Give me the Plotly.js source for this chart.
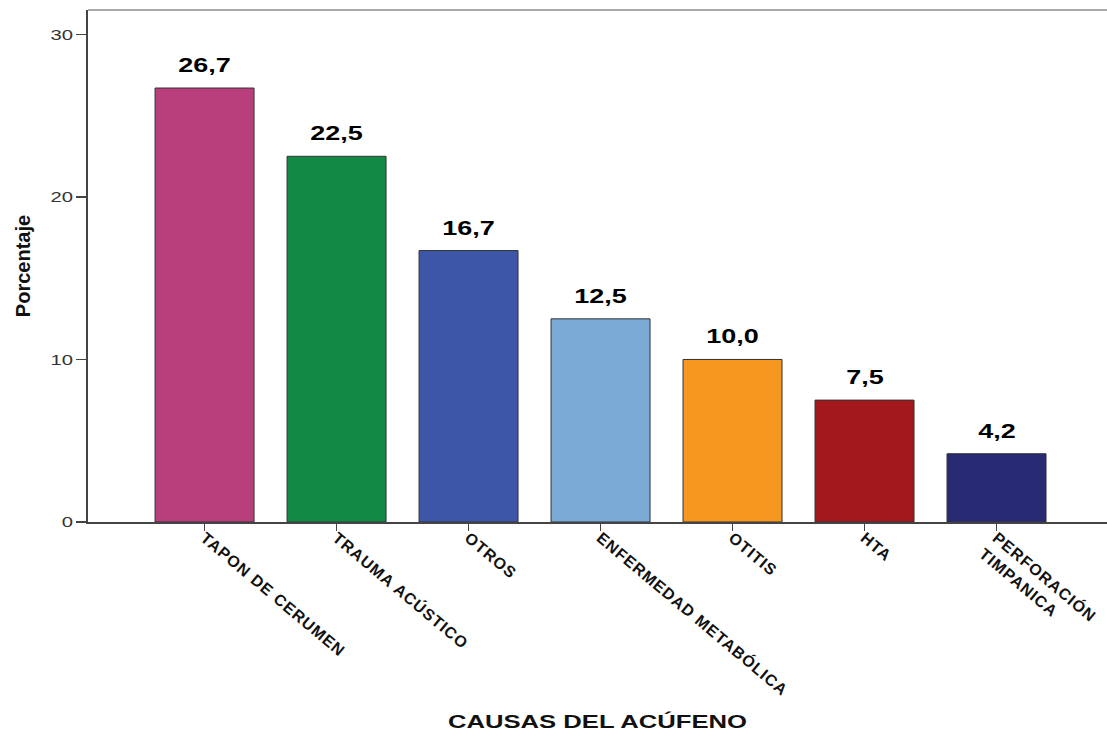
<!DOCTYPE html>
<html>
<head>
<meta charset="utf-8">
<script src="https://cdn.plot.ly/plotly-3.0.1.min.js"></script>
<style>
  html, body { margin: 0; padding: 0; background: #ffffff; }
  #chart { width: 1107px; height: 735px; }
  /* wide, stretched lettering for the titles, value labels and y tick labels */
  #chart .xtitle, #chart .annotation-text {
    transform-box: fill-box; transform-origin: center; transform: scaleX(1.35);
  }
  #chart g.ytick {
    transform-box: fill-box; transform-origin: right center; transform: scaleX(1.35);
  }
  #chart g.xtick text { letter-spacing: 1px; }
</style>
</head>
<body>
<div id="chart"></div>
<script>
// Causes of tinnitus, percentage of cases
const categories = [
  "TAPON DE CERUMEN",
  "TRAUMA ACÚSTICO",
  "OTROS",
  "ENFERMEDAD METABÓLICA",
  "OTITIS",
  "HTA",
  "PERFORACIÓN TIMPANICA"
];
const tickLabels = [
  "TAPON DE CERUMEN",
  "TRAUMA ACÚSTICO",
  "OTROS",
  "ENFERMEDAD METABÓLICA",
  "OTITIS",
  "HTA",
  "PERFORACIÓN<br>TIMPANICA"
];
const percentages = [26.7, 22.5, 16.7, 12.5, 10.0, 7.5, 4.2];
const barColors = ["#B93E7C", "#128A46", "#3D56A8", "#7AAAD6", "#F6981F", "#A2181C", "#282A74"];
const yTickValues = [0, 10, 20, 30];

const fontFamily = '"Liberation Sans", Arial, sans-serif';

const bars = {
  type: "bar",
  x: categories,
  y: percentages,
  marker: { color: barColors, line: { color: "#333333", width: 1 } },
  hoverinfo: "x+y"
};

const valueLabels = categories.map((c, i) => ({
  x: c,
  y: percentages[i],
  xref: "x",
  yref: "y",
  yanchor: "bottom",
  yshift: 10,
  showarrow: false,
  text: percentages[i].toFixed(1).replace(".", ","),
  font: { family: fontFamily, size: 20, color: "#000000", weight: 700 }
}));

const layout = {
  width: 1107,
  height: 735,
  margin: { l: 88, r: 0, t: 10, b: 213 },
  paper_bgcolor: "#ffffff",
  plot_bgcolor: "#ffffff",
  showlegend: false,
  bargap: 0.25,
  font: { family: fontFamily, color: "#333333" },
  xaxis: {
    type: "category",
    range: [-0.883, 6.837],
    tickmode: "array",
    tickvals: categories,
    ticktext: tickLabels,
    tickangle: 40,
    ticks: "outside",
    ticklen: 7,
    tickwidth: 1.5,
    tickcolor: "#444444",
    tickfont: { family: fontFamily, size: 16, color: "#111111", weight: 700 },
    ticklabelstandoff: -8,
    showline: true,
    linecolor: "#444444",
    linewidth: 1.5,
    showgrid: false,
    zeroline: false,
    automargin: false,
    fixedrange: true,
    title: {
      text: "CAUSAS DEL ACÚFENO",
      font: { family: fontFamily, size: 19, color: "#111111", weight: 700 },
      standoff: 30
    }
  },
  yaxis: {
    range: [0, 31.5],
    tickmode: "array",
    tickvals: yTickValues,
    ticktext: yTickValues.map(String),
    ticks: "outside",
    ticklen: 10,
    tickwidth: 1.5,
    tickcolor: "#444444",
    tickfont: { family: fontFamily, size: 15, color: "#333333" },
    showline: true,
    linecolor: "#444444",
    linewidth: 2,
    showgrid: false,
    zeroline: false,
    automargin: false,
    fixedrange: true,
    title: {
      text: "Porcentaje",
      font: { family: fontFamily, size: 20, color: "#111111", weight: 700 },
      standoff: 20
    }
  },
  shapes: [
    {
      type: "line",
      xref: "paper", yref: "paper",
      x0: 0, x1: 1, y0: 1, y1: 1,
      line: { color: "#8c8c8c", width: 1.5 }
    }
  ],
  annotations: valueLabels
};

Plotly.newPlot("chart", [bars], layout, { displayModeBar: false, staticPlot: true });
</script>
</body>
</html>
